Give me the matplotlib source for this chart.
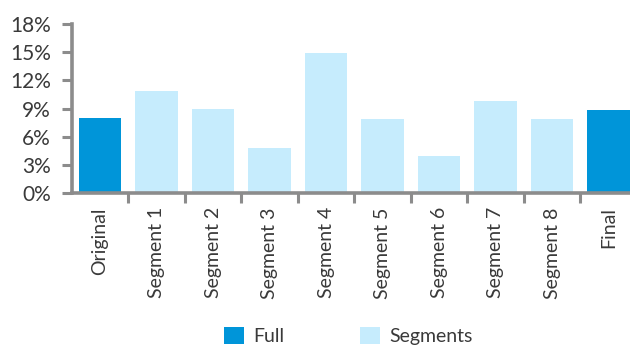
import matplotlib
matplotlib.use("Agg")
import matplotlib.pyplot as plt
from matplotlib.patches import Patch
import numpy as np

categories = ["Original", "Segment 1", "Segment 2", "Segment 3", "Segment 4",
              "Segment 5", "Segment 6", "Segment 7", "Segment 8", "Final"]
rates = [8.0, 10.9, 9.0, 4.8, 14.9, 7.9, 4.0, 9.8, 7.9, 8.8]
kinds = ["Full", "Segments", "Segments", "Segments", "Segments",
         "Segments", "Segments", "Segments", "Segments", "Full"]
y_ticks = [0, 3, 6, 9, 12, 15, 18]

FULL_COLOR = "#0095D9"
SEG_COLOR = "#C6ECFD"
AXIS_COLOR = "#8C8C8C"
TEXT_COLOR = "#3A3A3A"

plt.rcParams["font.family"] = ["Lato", "DejaVu Sans"]

fig = plt.figure(figsize=(6.3, 3.47), dpi=100)
ax = fig.add_axes([0.114, 0.443, 0.886, 0.488])

x = np.arange(len(categories))
colors = [FULL_COLOR if k == "Full" else SEG_COLOR for k in kinds]
ax.bar(x, rates, width=0.75, color=colors, zorder=2)

ax.set_xlim(-0.5, 9.38)
ax.set_ylim(0, 18)

# y axis: percent labels, grey spine with outward ticks
ax.set_yticks(y_ticks)
ax.set_yticklabels([f"{t}%" for t in y_ticks], fontsize=15, color=TEXT_COLOR)
ax.tick_params(axis="y", length=7, width=2.2, color=AXIS_COLOR, pad=8)

# x axis: labels at bar centres, tick marks between bars
ax.set_xticks(x)
ax.set_xticklabels(categories, rotation=90, fontsize=14, color=TEXT_COLOR)
ax.tick_params(axis="x", which="major", length=0, pad=10)
ax.set_xticks(x[:-1] + 0.5, minor=True)
ax.tick_params(axis="x", which="minor", length=7, width=2.2, color=AXIS_COLOR)

for side in ["top", "right"]:
    ax.spines[side].set_visible(False)
for side in ["left", "bottom"]:
    ax.spines[side].set_color(AXIS_COLOR)
    ax.spines[side].set_linewidth(2.6)

handles = [Patch(facecolor=FULL_COLOR, label="Full"),
           Patch(facecolor=SEG_COLOR, label="Segments")]
fig.legend(handles=handles, loc="lower center", bbox_to_anchor=(0.553, -0.045),
           ncol=2, frameon=False, fontsize=14, handlelength=1.0,
           handleheight=1.0, handletextpad=0.5, columnspacing=3.9,
           labelcolor=TEXT_COLOR)

fig.savefig("out.png", dpi=100)
